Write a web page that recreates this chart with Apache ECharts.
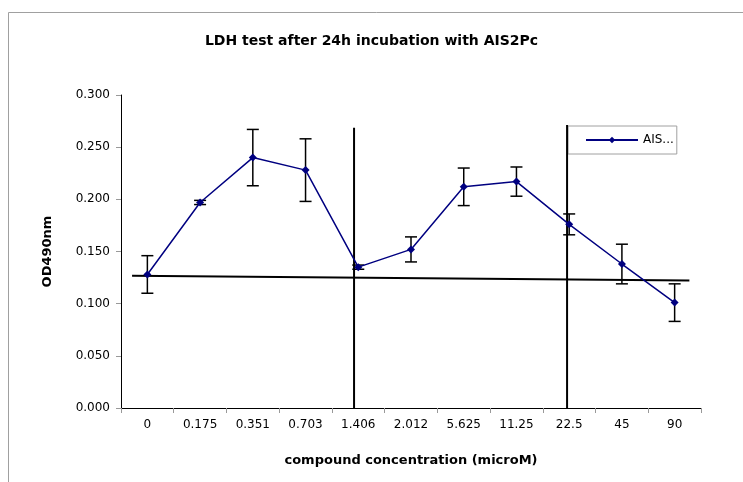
<!DOCTYPE html>
<html>
<head>
<meta charset="utf-8">
<script src="https://cdn.jsdelivr.net/npm/echarts@6/dist/echarts.min.js"></script>
<style>
  html, body { margin: 0; padding: 0; background: #fff; }
  #main { width: 743px; height: 482px; }
</style>
</head>
<body>
<div id="main"></div>
<script>
var categories = ['0', '0.175', '0.351', '0.703', '1.406', '2.012', '5.625', '11.25', '22.5', '45', '90'];
var odValues = [0.128, 0.197, 0.240, 0.228, 0.135, 0.152, 0.212, 0.217, 0.176, 0.138, 0.101];
var odErrors = [0.018, 0.002, 0.027, 0.030, 0.002, 0.012, 0.018, 0.014, 0.010, 0.019, 0.018];
var yTicks = [0, 0.05, 0.1, 0.15, 0.2, 0.25, 0.3];
// hand drawn black lines, in category-index / value units
var drawnLines = [
  [[-0.29, 0.1268], [10.28, 0.1221]],
  [[3.92, 0], [3.92, 0.2687]],
  [[7.96, 0], [7.96, 0.2712]]
];

var FONT = 'DejaVu Sans';
var chart = echarts.init(document.getElementById('main'), null, { renderer: 'canvas' });

function errorBars(params, api) {
  var i = api.value(0);
  var hi = api.coord([i, api.value(2)]);
  var lo = api.coord([i, api.value(1)]);
  var cap = 6;
  var style = { stroke: '#000', lineWidth: 1.5 };
  return {
    type: 'group',
    children: [
      { type: 'line', shape: { x1: hi[0], y1: hi[1], x2: lo[0], y2: lo[1] }, style: style },
      { type: 'line', shape: { x1: hi[0] - cap, y1: hi[1], x2: hi[0] + cap, y2: hi[1] }, style: style },
      { type: 'line', shape: { x1: lo[0] - cap, y1: lo[1], x2: lo[0] + cap, y2: lo[1] }, style: style }
    ]
  };
}

var errData = odValues.map(function (v, i) {
  return [i, v - odErrors[i], v + odErrors[i]];
});

var series = [
  {
    type: 'custom',
    renderItem: errorBars,
    data: errData,
    z: 3,
    silent: true
  }
];
drawnLines.forEach(function (seg) {
  series.push({
    type: 'line',
    xAxisIndex: 1,
    data: seg,
    symbol: 'none',
    lineStyle: { color: '#000', width: 2 },
    z: 4,
    silent: true
  });
});
series.push({
  name: 'AIS2Pc',
  type: 'line',
  data: odValues,
  symbol: 'diamond',
  symbolSize: 8,
  itemStyle: { color: '#000080' },
  lineStyle: { color: '#000080', width: 1.5 },
  z: 5
});

var option = {
  animation: false,
  backgroundColor: '#fff',
  graphic: [{
    type: 'rect',
    shape: { x: 8.5, y: 12.5, width: 800, height: 500 },
    style: { fill: 'none', stroke: '#a0a0a0', lineWidth: 1 },
    silent: true
  }],
  title: {
    text: 'LDH test after 24h incubation with AIS2Pc',
    left: 'center',
    top: 29,
    textStyle: { fontFamily: FONT, fontSize: 14, fontWeight: 'bold', color: '#000' }
  },
  legend: {
    data: ['AIS2Pc'],
    left: 568,
    top: 126,
    orient: 'vertical',
    padding: [8, 3, 8, 17],
    borderColor: '#a0a0a0',
    borderWidth: 1,
    itemWidth: 52,
    itemHeight: 8,
    formatter: function () { return 'AIS...'; },
    textStyle: { fontFamily: FONT, fontSize: 12, color: '#000' }
  },
  grid: { left: 121, right: 42, top: 95, bottom: 74 },
  xAxis: [
    {
      type: 'category',
      data: categories,
      name: 'compound concentration (microM)',
      nameLocation: 'middle',
      nameGap: 46,
      nameTextStyle: { fontFamily: FONT, fontSize: 13, fontWeight: 'bold', color: '#000' },
      axisLine: { onZero: false, lineStyle: { color: '#000', width: 1 } },
      axisTick: { show: true, length: 5, lineStyle: { color: '#999' } },
      axisLabel: { margin: 11, fontFamily: FONT, fontSize: 12, color: '#000' },
      splitLine: { show: false }
    },
    {
      type: 'value',
      min: -0.5,
      max: 10.5,
      show: false
    }
  ],
  yAxis: {
    type: 'value',
    min: yTicks[0],
    max: yTicks[yTicks.length - 1],
    interval: 0.05,
    name: 'OD490nm',
    nameLocation: 'middle',
    nameGap: 67,
    nameRotate: 90,
    nameTextStyle: { fontFamily: FONT, fontSize: 13, fontWeight: 'bold', color: '#000' },
    axisLine: { show: true, onZero: false, lineStyle: { color: '#000', width: 1 } },
    axisTick: { show: true, length: 5, lineStyle: { color: '#999' } },
    axisLabel: {
      margin: 11,
      fontFamily: FONT,
      fontSize: 12,
      color: '#000',
      formatter: function (v) { return v.toFixed(3); }
    },
    splitLine: { show: false }
  },
  series: series
};

chart.setOption(option);
</script>
</body>
</html>
